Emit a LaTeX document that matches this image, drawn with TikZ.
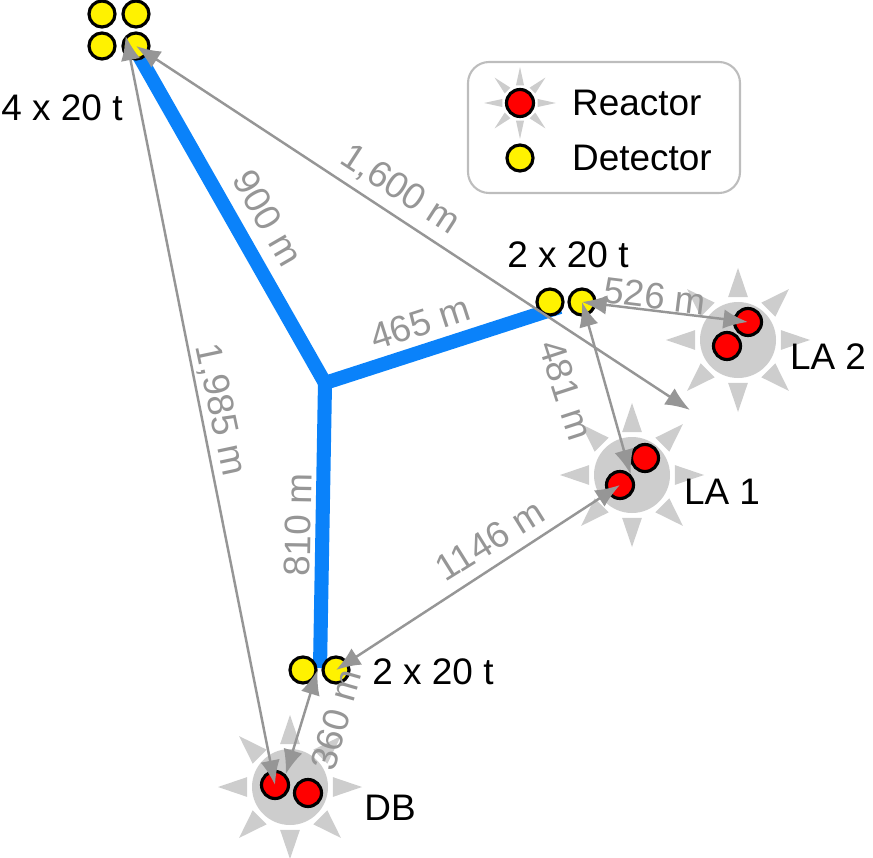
\documentclass[tikz,border=0pt]{standalone}
\usepackage{fontspec}
\setmainfont{Liberation Sans}
\usetikzlibrary{arrows.meta,calc,positioning}
\definecolor{tunnel}{RGB}{10,130,250}
\definecolor{dist}{RGB}{150,150,150}
\definecolor{halo}{RGB}{205,205,205}
\tikzset{
  det/.style={circle, draw, fill=yellow, line width=0.9pt, minimum size=0.26cm, inner sep=0pt},
  core/.style={circle, draw, fill=red, line width=0.9pt, minimum size=0.27cm, inner sep=0pt},
  tunnelLine/.style={tunnel, line width=4pt},
  distArrow/.style={{Latex[length=7pt,width=5.5pt]}-{Latex[length=7pt,width=5.5pt]}, dist, line width=0.7pt},
  distLabel/.style={text=dist, font=\fontsize{10.5}{12}\selectfont, inner sep=1pt},
  siteLabel/.style={font=\fontsize{10.5}{12}\selectfont, inner sep=1pt}
}
% reactor halo with rays: #1 centre, #2 inner radius, #3 outer radius
\newcommand{\DrawHalo}[3]{%
  \foreach \a in {0,45,...,315}{%
    \fill[halo] ($(#1)+(\a-13:#2)$) -- ($(#1)+(\a:#3)$) -- ($(#1)+(\a+13:#2)$) -- cycle;
  }%
}
\begin{document}
\begin{tikzpicture}[x=0.01cm,y=0.01cm]
  \useasboundingbox (0,0) rectangle (873,857);
  % reactor sites
  \coordinate (DB) at (290,70);
  \coordinate (LAa) at (632,382);
  \coordinate (LAb) at (738,517);
  \foreach \c in {DB,LAa,LAb}{%
    \DrawHalo{\c}{44}{72}
    \fill[halo] (\c) circle (38);
  }
  % tunnel
  \coordinate (J) at (325,474);
  \draw[tunnelLine] (130,817) -- (J) -- (560,550);
  \draw[tunnelLine] (J) -- (320,189);
  % detectors
  \node[det] (F1) at (102,843) {};
  \node[det] (F2) at (136,843) {};
  \node[det] (F3) at (102,811) {};
  \node[det] (F4) at (136,811) {};
  \node[det] (M1) at (550,555) {};
  \node[det] (M2) at (582,555) {};
  \node[det] (N1) at (303,187) {};
  \node[det] (N2) at (336,187) {};
  % reactor cores
  \node[core] (DB1) at (275,72) {};
  \node[core] (DB2) at (308,64) {};
  \node[core] (LA11) at (645,399) {};
  \node[core] (LA12) at (620,372) {};
  \node[core] (LA21) at (748,535) {};
  \node[core] (LA22) at (727,511) {};
  \coordinate (Far) at (690,447);
  % distances
  \draw[distArrow] (F4.center) -- (Far);
  \draw[distArrow] (F4.north west) -- (DB1.center);
  \draw[distArrow] (M2.center) -- (LA21.center);
  \draw[distArrow] (M2.center) -- (LA12.north east);
  \draw[distArrow] (N2.center) -- (LA12.center);
  \draw[distArrow] (N1.east) -- (DB1.north east);
  \node[distLabel, rotate=-33] at (400,667) {1,600 m};
  \node[distLabel, rotate=-78] at (220,447) {1,985 m};
  \node[distLabel, rotate=-60] at (268,639) {900 m};
  \node[distLabel, rotate=18] at (420,534) {465 m};
  \node[distLabel, rotate=89] at (298,332) {810 m};
  \node[distLabel, rotate=-7] at (655,561) {526 m};
  \node[distLabel, rotate=-72] at (566,467) {481 m};
  \node[distLabel, rotate=32] at (490,317) {1146 m};
  \node[distLabel, rotate=74] at (336,137) {360 m};
  % site labels
  \node[siteLabel] at (62,749) {4 x 20 t};
  \node[siteLabel] at (568,602) {2 x 20 t};
  \node[siteLabel] at (433,185) {2 x 20 t};
  \node[siteLabel] at (390,49) {DB};
  \node[siteLabel] at (722,365) {LA 1};
  \node[siteLabel] at (828,500) {LA 2};
  % legend
  \draw[halo!80!gray, line width=0.6pt, rounded corners=6pt] (468,664) rectangle (740,795);
  \coordinate (Lr) at (520,754);
  \DrawHalo{Lr}{18}{36}
  \node[core] (LgR) at (Lr) {};
  \node[det] (LgD) at (520,699) {};
  \node[siteLabel, anchor=west] at (568,754) {Reactor};
  \node[siteLabel, anchor=west] at (568,699) {Detector};
\end{tikzpicture}
\end{document}
